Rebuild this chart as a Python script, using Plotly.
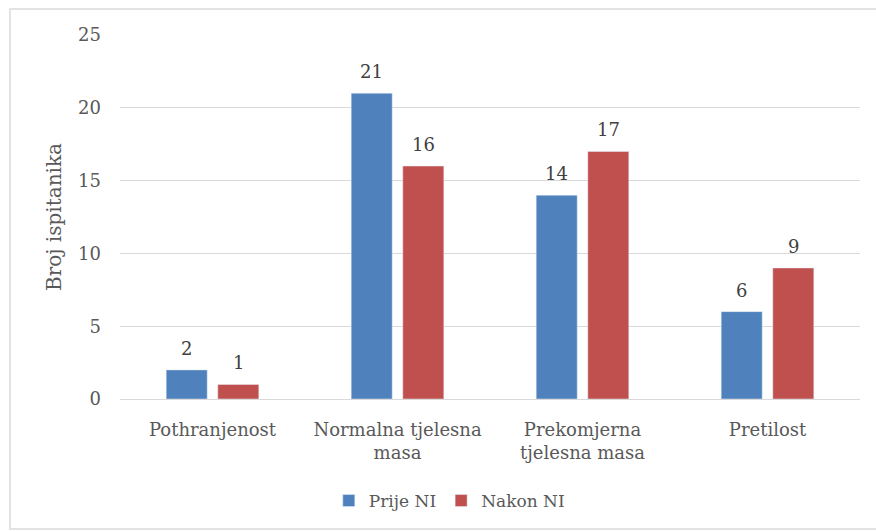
import plotly.graph_objects as go

categories = ["Pothranjenost", "Normalna tjelesna<br>masa", "Prekomjerna<br>tjelesna masa", "Pretilost"]
prije = [2, 21, 14, 6]
nakon = [1, 16, 17, 9]
series_names = ["Prije NI", "Nakon NI"]
series_colors = ["#4F81BD", "#C0504D"]
y_title = "Broj ispitanika"
y_ticks = [0, 5, 10, 15, 20, 25]

FONT = "DejaVu Serif"
TXT = "#595959"
LBL = "#404040"

fig = go.Figure()
for name, vals, col in zip(series_names, [prije, nakon], series_colors):
    fig.add_trace(go.Bar(x=categories, y=vals, name=name, marker_color=col))

# data labels above each bar (positioned from the data through the axes)
annotations = []
for vals, shift in zip([prije, nakon], [-25.8, 25.8]):
    for c, v in zip(categories, vals):
        annotations.append(dict(x=c, y=v, xref="x", yref="y", text=str(v), showarrow=False,
                                xanchor="center", yanchor="bottom", xshift=shift, yshift=9,
                                font=dict(size=18, color=LBL, family=FONT)))
annotations.append(dict(text=y_title, textangle=-90, xref="paper", yref="paper",
                        x=(54 - 120) / 740, y=(399 - 217) / 364, xanchor="center", yanchor="middle",
                        showarrow=False, font=dict(size=20, color=TXT, family=FONT)))

fig.update_layout(
    width=876, height=531,
    margin=dict(l=120, r=16, t=35, b=132),
    paper_bgcolor="white", plot_bgcolor="white",
    font=dict(family=FONT, size=18, color=TXT),
    barmode="group", bargap=0.442, bargroupgap=0.205,
    showlegend=True,
    legend=dict(orientation="h", x=0.445, xanchor="center", y=-(501 - 399) / 364, yanchor="middle",
                font=dict(size=17, color=TXT), itemwidth=30, traceorder="normal"),
    xaxis=dict(showgrid=False, showline=False, ticks="", ticklabelstandoff=18,
               tickfont=dict(size=18, color=TXT)),
    yaxis=dict(range=[0, 25], tickvals=y_ticks, showgrid=True, gridcolor="#D9D9D9", gridwidth=1,
               zeroline=True, zerolinecolor="#D9D9D9", zerolinewidth=1, showline=False,
               ticklabelstandoff=18, tickfont=dict(size=18, color=TXT)),
    annotations=annotations,
    shapes=[dict(type="rect", xref="paper", yref="paper", x0=-110 / 740, x1=(880 - 120) / 740,
                 y0=-(529 - 399) / 364, y1=(399 - 9) / 364, line=dict(color="#E3E3E3", width=2))],
)
fig.write_html("out.html")
